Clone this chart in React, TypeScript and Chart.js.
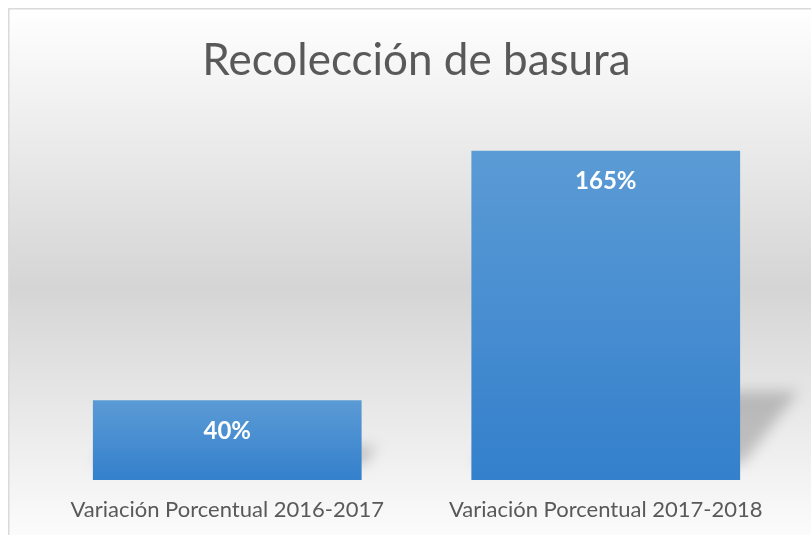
import React, { useEffect, useRef } from "react";
import { Chart, registerables } from "chart.js";

Chart.register(...registerables);

const titleText = "Recolección de basura";
const categories = ["Variación Porcentual 2016-2017", "Variación Porcentual 2017-2018"];
const values = [40, 165];
const valueLabels = ["40%", "165%"];
const yMax = 180;

const FONT = "Lato, 'Open Sans', sans-serif";

const bgPlugin = {
  id: "bgPlugin",
  beforeDraw(chart: any) {
    const { ctx, width, height } = chart;
    ctx.save();
    const g = ctx.createLinearGradient(0, 0, 0, height + 10);
    g.addColorStop(0, "#ffffff");
    g.addColorStop(0.52, "#d5d5d5");
    g.addColorStop(1, "#fdfdfd");
    ctx.fillStyle = g;
    ctx.fillRect(0, 0, width, height);
    ctx.fillStyle = "#dadada";
    ctx.fillRect(0, 0, width, 1.5);
    ctx.fillRect(0, 0, 1.5, height);
    ctx.restore();
  },
};

const shadowPlugin = {
  id: "shadowPlugin",
  beforeDatasetsDraw(chart: any) {
    const { ctx } = chart;
    const meta = chart.getDatasetMeta(0);
    ctx.save();
    ctx.filter = "blur(7px)";
    ctx.fillStyle = "rgba(0,0,0,0.20)";
    meta.data.forEach((bar: any) => {
      const left = bar.x - bar.width / 2;
      const right = bar.x + bar.width / 2;
      const h = bar.base - bar.y;
      const offY = 16;
      const offX = 2;
      const sy = 0.22;
      const sk = 0.17;
      const bottomY = bar.base - offY;
      const topY = bar.base - offY - h * sy;
      const shift = h * sk;
      ctx.beginPath();
      ctx.moveTo(left + offX, bottomY);
      ctx.lineTo(right + offX, bottomY);
      ctx.lineTo(right + offX + shift, topY);
      ctx.lineTo(left + offX + shift, topY);
      ctx.closePath();
      ctx.fill();
    });
    ctx.restore();
  },
};

const labelPlugin = {
  id: "labelPlugin",
  afterDatasetsDraw(chart: any) {
    const { ctx } = chart;
    const meta = chart.getDatasetMeta(0);
    ctx.save();
    ctx.fillStyle = "#ffffff";
    ctx.font = "bold 24px " + FONT;
    ctx.textAlign = "center";
    ctx.textBaseline = "middle";
    meta.data.forEach((bar: any, i: number) => {
      ctx.fillText(valueLabels[i], bar.x, bar.y + 31);
    });
    ctx.restore();
  },
};

export default function App() {
  const ref = useRef<HTMLCanvasElement>(null);
  useEffect(() => {
    if (!ref.current) return;
    const chart = new Chart(ref.current, {
      type: "bar",
      data: {
        labels: categories,
        datasets: [
          {
            data: values,
            backgroundColor: (c: any) => {
              const ch = c.chart;
              if (!ch.chartArea || c.dataIndex === undefined) return "#4a8fd2";
              const ys = ch.scales.y;
              const v = values[c.dataIndex];
              const top = ys.getPixelForValue(v);
              const bot = ys.getPixelForValue(0);
              const g = ch.ctx.createLinearGradient(0, top, 0, bot);
              g.addColorStop(0, "#5b9bd5");
              g.addColorStop(1, "#3480cc");
              return g;
            },
            borderWidth: 0,
            barPercentage: 0.71,
            categoryPercentage: 1,
          },
        ],
      },
      options: {
        animation: false,
        responsive: false,
        layout: { padding: { left: 30, right: 16, top: 0, bottom: 0 } },
        plugins: {
          legend: { display: false },
          tooltip: { enabled: false },
          title: {
            display: true,
            text: titleText,
            color: "#595959",
            font: { family: FONT, size: 44, weight: "normal", lineHeight: 1.2 },
            padding: { top: 26, bottom: 34 },
          },
        },
        scales: {
          x: {
            grid: { display: false, drawTicks: false },
            border: { display: false },
            ticks: {
              color: "#595959",
              font: { family: FONT, size: 22 },
              padding: 17,
            },
            afterFit: (scale: any) => {
              scale.height = 55;
            },
          },
          y: {
            display: false,
            min: 0,
            max: yMax,
          },
        },
      },
      plugins: [bgPlugin, shadowPlugin, labelPlugin],
    });
    return () => chart.destroy();
  }, []);
  return (
    <div style={{ position: "fixed", left: 8, top: 8, width: 803, height: 527 }}>
      <canvas ref={ref} width={803} height={527} style={{ display: "block" }} />
    </div>
  );
}
